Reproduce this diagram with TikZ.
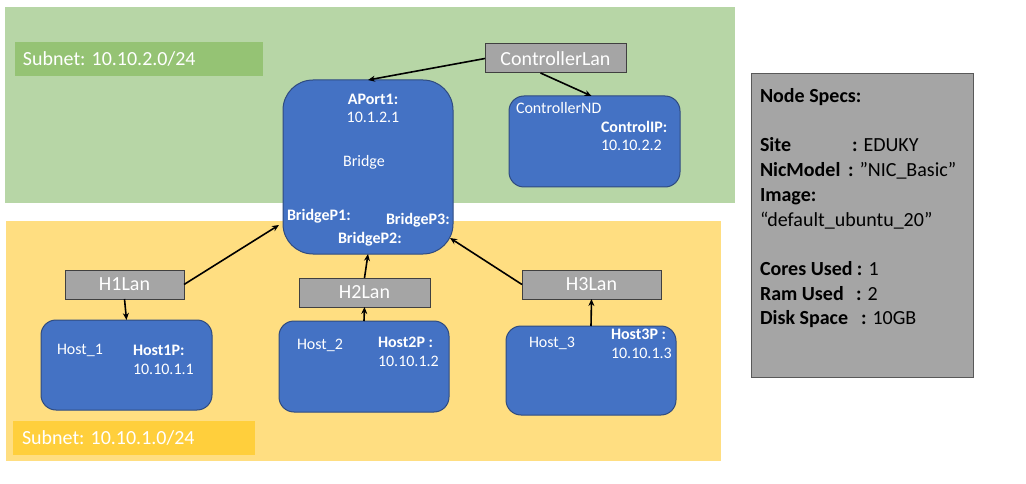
\documentclass[tikz,border=0pt]{standalone}
\usepackage{fontspec}
\setmainfont{Carlito}
\usetikzlibrary{arrows.meta}
\definecolor{greenbg}{HTML}{B7D6A6}
\definecolor{greenlab}{HTML}{95C374}
\definecolor{yellowbg}{HTML}{FFDE81}
\definecolor{yellowlab}{HTML}{FFCF3C}
\definecolor{hostblue}{HTML}{4472C4}
\definecolor{hostedge}{HTML}{2F4B80}
\definecolor{langray}{HTML}{A5A5A5}
\definecolor{lanedge}{HTML}{404040}
\definecolor{specedge}{HTML}{595959}
\newcommand\fbig{\fontsize{20}{24}\selectfont}
\newcommand\fsmall{\fontsize{16}{19}\selectfont}
\newcommand\fspec{\fontsize{20}{24}\selectfont}
\newcommand\fspecb{\fontsize{20}{24}\selectfont\bfseries}
\begin{document}
\begin{tikzpicture}[x=1pt,y=-1pt,
  region/.style={draw=none,inner sep=0,outer sep=0,anchor=north west},
  lanbox/.style={draw=lanedge,line width=1pt,fill=langray,inner sep=0,outer sep=0,anchor=north west,text=white,font=\fbig},
  hostbox/.style={draw=hostedge,line width=1pt,fill=hostblue,inner sep=0,outer sep=0,anchor=north west,rounded corners=15pt},
  txt/.style={inner sep=0,outer sep=0,text=white,font=\fsmall,anchor=base west},
  btxt/.style={txt,font=\fsmall\bfseries},
  spec/.style={inner sep=0,outer sep=0,text=black,font=\fspec,anchor=base west},
  conn/.style={line width=1.6pt,-{Stealth[length=7pt,width=6pt]}}
]
\useasboundingbox (0,0) rectangle (1026,484);
\fill[white] (0,0) rectangle (1026,484);

% regions
\node[region,fill=greenbg,minimum width=730,minimum height=196] (greenzone) at (5,7) {};
\node[region,fill=greenlab,minimum width=248,minimum height=34] (greenlabel) at (15,42) {};
\node[txt,font=\fbig] (greentext) at (23,65.7) {Subnet: 10.10.2.0/24};
\node[region,fill=yellowbg,minimum width=715,minimum height=240] (yellowzone) at (6,221) {};
\node[region,fill=yellowlab,minimum width=242,minimum height=34] (yellowlabel) at (13,421) {};
\node[txt,font=\fbig] (yellowtext) at (22,444.7) {Subnet: 10.10.1.0/24};

% LAN boxes
\node[lanbox,minimum width=141,minimum height=29] (clan) at (485,44) {ControllerLan};
\node[lanbox,minimum width=119,minimum height=29] (h1lan) at (65,270) {H1Lan};
\node[lanbox,minimum width=131,minimum height=29] (h2lan) at (299,278) {H2Lan};
\node[lanbox,minimum width=139,minimum height=29] (h3lan) at (522,270) {H3Lan};

% blue boxes
\node[hostbox,rounded corners=30pt,minimum width=170,minimum height=174] (bridge) at (283,80) {};
\node[hostbox,minimum width=171,minimum height=91] (cnd) at (509,96) {};
\node[hostbox,minimum width=171,minimum height=90] (host1) at (41,320) {};
\node[hostbox,minimum width=170,minimum height=91] (host2) at (279,321) {};
\node[hostbox,minimum width=170,minimum height=89] (host3) at (506,326) {};

% bridge texts
\node[btxt,anchor=base] (aport) at (373,104.5) {APort1:};
\node[txt,anchor=base] (aportip) at (373,123) {10.1.2.1};
\node[txt,anchor=base] (bridgename) at (364,167) {Bridge};
\node[btxt] (bp1) at (287,221) {BridgeP1:};
\node[btxt] (bp3) at (386,224.5) {BridgeP3:};
\node[btxt] (bp2) at (338,243) {BridgeP2:};

% controller texts
\node[txt] (cndname) at (516,114) {ControllerND};
\node[btxt] (cndport) at (601,132.5) {ControlIP:};
\node[txt] (cndip) at (601,151) {10.10.2.2};

% host texts
\node[txt] (h1name) at (57,354) {Host\_1};
\node[btxt] (h1port) at (133,355) {Host1P:};
\node[txt] (h1ip) at (133,374) {10.10.1.1};
\node[txt] (h2name) at (297,349) {Host\_2};
\node[btxt] (h2port) at (378,347.5) {Host2P :};
\node[txt] (h2ip) at (378,366) {10.10.1.2};
\node[txt] (h3name) at (529,347.5) {Host\_3};
\node[btxt] (h3port) at (611,339) {Host3P :};
\node[txt] (h3ip) at (611,358.5) {10.10.1.3};

% specs panel
\node[region,draw=specedge,line width=1pt,fill=langray,minimum width=222,minimum height=303] (specs) at (751,74) {};
\node[spec] (s0) at (760,102.5) {{\fspecb Node Specs:}};
\node[spec] (s1) at (760,151.9) {\makebox[92pt][l]{\fspecb Site}{\fspecb :} EDUKY};
\node[spec] (s2) at (760,176.6) {\makebox[88pt][l]{\fspecb NicModel}{\fspecb :} ”NIC\_Basic”};
\node[spec] (s3) at (760,201.3) {{\fspecb Image:}};
\node[spec] (s4) at (760,226) {“default\_ubuntu\_20”};
\node[spec] (s5) at (760,275.4) {\makebox[97pt][l]{\fspecb Cores Used}{\fspecb :} 1};
\node[spec] (s6) at (760,300.1) {\makebox[96pt][l]{\fspecb Ram Used}{\fspecb :} 2};
\node[spec] (s7) at (760,324.8) {\makebox[101pt][l]{\fspecb Disk Space}{\fspecb :} 10GB};

% connectors
\draw[conn] (clan.west) -- (bridge.north);
\draw[conn] ([xshift=-15pt]clan.south) -- ([xshift=-3pt]cnd.north);
\draw[conn] (h1lan.east) -- ([xshift=-4pt,yshift=29pt]bridge.south west);
\draw[conn] (h1lan.south) -- (host1.north);
\draw[conn] (h2lan.north) -- (bridge.south);
\draw[conn] (host2.north) -- (h2lan.south);
\draw[conn] (h3lan.west) -- ([xshift=-3pt,yshift=16pt]bridge.south east);
\draw[conn] (host3.north) -- (h3lan.south);
\end{tikzpicture}
\end{document}
